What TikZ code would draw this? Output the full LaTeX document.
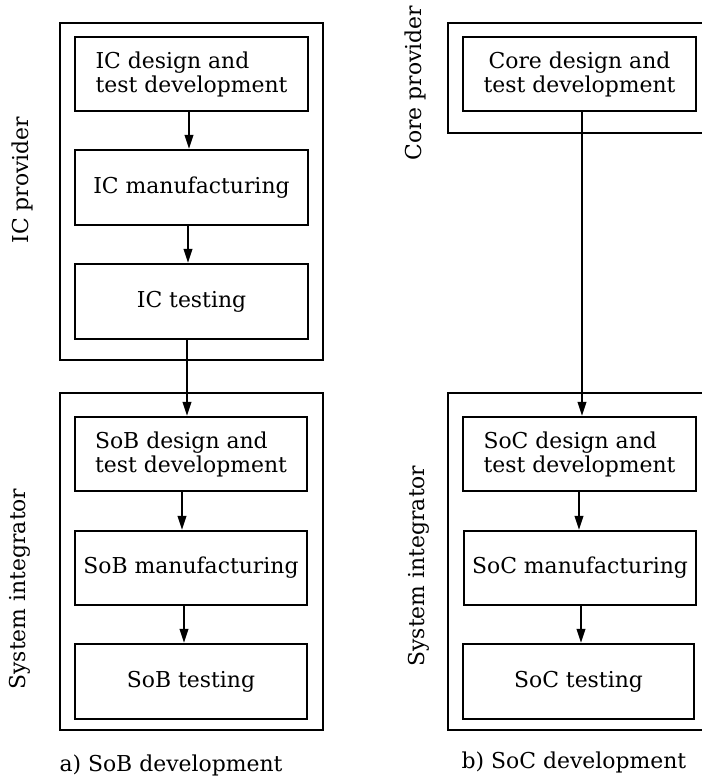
\documentclass[tikz,border=0pt]{standalone}
\usepackage{fontspec}
\setmainfont{DejaVu Serif}
\usetikzlibrary{arrows.meta}
\newcommand{\mysize}{\fontsize{21.9}{24}\selectfont}
\begin{document}
\begin{tikzpicture}[x=1pt,y=-1pt,
  stepbox/.style={draw, line width=2.2pt, minimum width=233pt, minimum height=74pt, inner sep=0pt, align=left, font=\mysize},
  groupbox/.style={draw, line width=2.2pt, inner sep=0pt},
  lbl/.style={font=\mysize, inner sep=0pt},
  arr/.style={line width=2.2pt, -{Triangle[length=14pt,width=8.5pt]}}]
\useasboundingbox (0,0) rectangle (702,780);
\clip (0,0) rectangle (702,780);
% group boxes
\node[groupbox, minimum width=263pt, minimum height=337pt] (icp) at (191.5,191.5) {};
\node[groupbox, minimum width=263pt, minimum height=337pt] (lsib) at (191.5,561.5) {};
\node[groupbox, minimum width=262pt, minimum height=110pt] (cpb) at (579,78) {};
\node[groupbox, minimum width=262pt, minimum height=337pt] (rsib) at (579,561.5) {};
% step boxes (a)
\node[stepbox] (icd) at (191.5,74) {IC design and\\test development};
\node[stepbox, minimum height=75pt] (icm) at (191.5,187.5) {IC manufacturing};
\node[stepbox, minimum height=75pt] (ict) at (191.5,301.5) {IC testing};
\node[stepbox, minimum width=232pt] (sbd) at (191,454) {SoB design and\\test development};
\node[stepbox, minimum width=232pt] (sbm) at (191,568) {SoB manufacturing};
\node[stepbox, minimum width=232pt, minimum height=75pt] (sbt) at (191,681.5) {SoB testing};
% step boxes (b)
\node[stepbox, align=center] (cd) at (579.5,74) {Core design and\\test development};
\node[stepbox] (scd) at (579.5,454) {SoC design and\\test development};
\node[stepbox, minimum width=232pt] (scm) at (580,568) {SoC manufacturing};
\node[stepbox, minimum width=231pt, minimum height=75pt] (sct) at (578.5,681.5) {SoC testing};
% arrows
\draw[arr] ([xshift=-2.5pt]icd.south) -- ([xshift=-2.5pt]icm.north);
\draw[arr] ([xshift=-3.5pt]icm.south) -- ([xshift=-3.5pt]ict.north);
\draw[arr] ([xshift=-4.5pt]ict.south) -- ([xshift=-4pt]sbd.north);
\draw[arr] ([xshift=-9pt]sbd.south) -- ([xshift=-9pt]sbm.north);
\draw[arr] ([xshift=-7pt]sbm.south) -- ([xshift=-7pt]sbt.north);
\draw[arr] ([xshift=2.5pt]cd.south) -- ([xshift=2.5pt]scd.north);
\draw[arr] ([xshift=-0.5pt]scd.south) -- ([xshift=-1pt]scm.north);
\draw[arr] ([xshift=1pt]scm.south) -- ([xshift=2.5pt]sct.north);
% side labels
\node[lbl, rotate=90] (lip) at (22,180) {IC provider};
\node[lbl, rotate=90] (lsi) at (20,589) {System integrator};
\node[lbl, rotate=90] (lcp) at (415,83) {Core provider};
\node[lbl, rotate=90] (rsi) at (419,566) {System integrator};
% captions
\node[lbl, anchor=base] (capa) at (171,771) {a) SoB development};
\node[lbl, anchor=base] (capb) at (574,768) {b) SoC development};
\end{tikzpicture}
\end{document}
